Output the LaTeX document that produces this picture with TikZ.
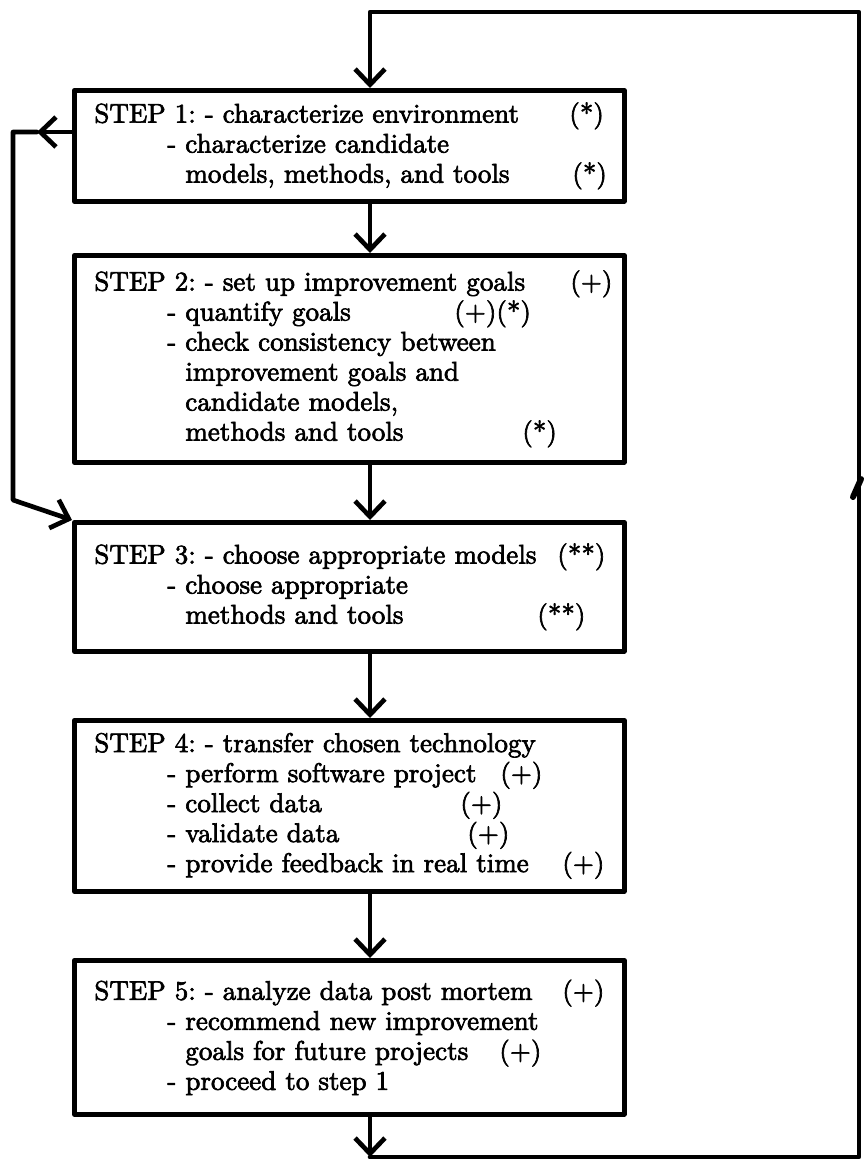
\documentclass[tikz,border=0pt]{standalone}
\usepackage{fontspec}
\usetikzlibrary{arrows.meta}
\newfontfamily\scanfont{Latin Modern Roman}[BoldFont={Latin Modern Roman}, BoldFeatures={FakeBold=2.5}]
\newdimen\pxu \pxu=0.3846pt
% \stepline{indent}{text}{mark offset}{mark}
\newcommand\stepline[4]{\hspace*{#1\pxu}\makebox[0pt][l]{\hspace*{\dimexpr#3\pxu-#1\pxu\relax}#4}#2}
\tikzset{
  ink/.style={line width=1.8pt, line cap=round, line join=round},
  arr/.style={-{Straight Barb[length=6pt, width=11.5pt]}},
  stepbox/.style={draw, ink, rectangle, anchor=north west,
    minimum width=211.5pt, inner xsep=7.69pt, inner ysep=0pt,
    text width=196.1pt, align=left,
    font=\scanfont\bfseries\frenchspacing\fontsize{10.4pt}{11.54pt}\selectfont},
}
\begin{document}
\begin{tikzpicture}[x=0.3846pt, y=-0.3846pt]
\useasboundingbox (0,0) rectangle (865,1160);
\coordinate (ax) at (370,0);

\node[stepbox, minimum height=42.7pt] (s1) at (72,88) {%
\stepline{0}{STEP 1: - characterize environment}{475}{(*)}\\
\stepline{73}{- characterize candidate}{0}{}\\
\stepline{91}{models, methods, and tools}{478}{(*)}};

\node[stepbox, minimum height=79.6pt] (s2) at (72,253) {%
\stepline{0}{STEP 2: - set up improvement goals}{476}{(+)}\\
\stepline{73}{- quantify goals}{360}{(+)(*)}\\
\stepline{73}{- check consistency between}{0}{}\\
\stepline{91}{improvement goals and}{0}{}\\
\stepline{91}{candidate models,}{0}{}\\
\stepline{91}{methods and tools}{428}{(*)}};

\node[stepbox, minimum height=49.6pt] (s3) at (72,520) {%
\stepline{0}{STEP 3: - choose appropriate models}{463}{(**)}\\
\stepline{73}{- choose appropriate}{0}{}\\
\stepline{91}{methods and tools}{443}{(**)}};

\node[stepbox, minimum height=65.8pt] (s4) at (72,718) {%
\stepline{0}{STEP 4: - transfer chosen technology}{0}{}\\
\stepline{73}{- perform software project}{406}{(+)}\\
\stepline{73}{- collect data}{366}{(+)}\\
\stepline{73}{- validate data}{373}{(+)}\\
\stepline{73}{- provide feedback in real time}{468}{(+)}};

\node[stepbox, minimum height=59.2pt] (s5) at (72,958) {%
\stepline{0}{STEP 5: - analyze data post mortem}{468}{(+)}\\
\stepline{73}{- recommend new improvement}{0}{}\\
\stepline{91}{goals for future projects}{405}{(+)}\\
\stepline{73}{- proceed to step 1}{0}{}};

% main flow
\draw[ink, arr] (s1.south -| ax) -- (s2.north -| ax);
\draw[ink, arr] (s2.south -| ax) -- (s3.north -| ax);
\draw[ink, arr] (s3.south -| ax) -- (s4.north -| ax);
\draw[ink, arr] (s4.south -| ax) -- (s5.north -| ax);

% outer feedback loop
\coordinate (bl) at (370,1157);
\coordinate (br) at (859,1157);
\coordinate (tr) at (859,12);
\coordinate (tl) at (370,12);
\draw[ink, arr] (s5.south -| ax) -- (bl);
\draw[ink, arr] (bl) -- (br) -- (tr) -- (tl) -- (s1.north -| ax);

% left loop
\coordinate (la) at (13,132);
\coordinate (lm) at (37,132);
\coordinate (lb) at (13,500);
\draw[ink, arr] (s1.west |- la) -- (lm);
\draw[ink, arr] (lm) -- (la) -- (lb) -- (s3.north west);

% stray stroke at right edge
\draw[line width=2.3pt, line cap=round] (853,497) -- (861,479);
\end{tikzpicture}
\end{document}
